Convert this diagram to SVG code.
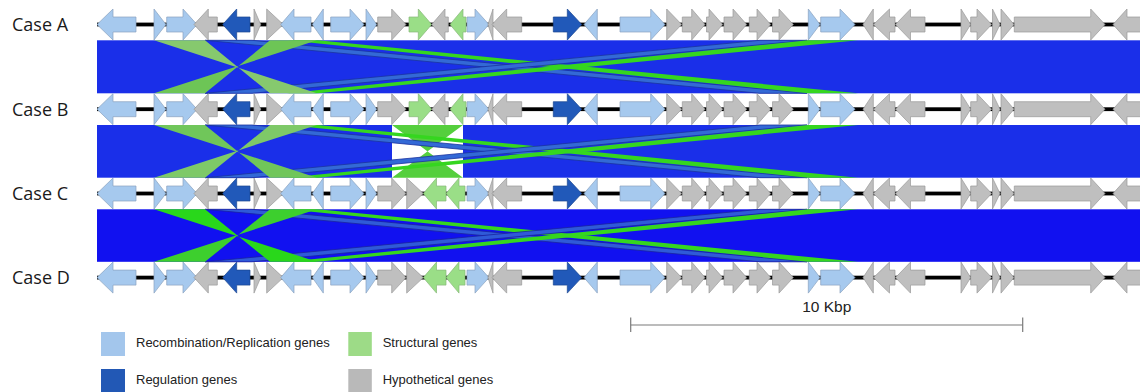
<svg xmlns="http://www.w3.org/2000/svg" xmlns:xlink="http://www.w3.org/1999/xlink" width="1140" height="392" viewBox="0 0 1140 392">
<style>
.lb{fill:#a6c9ee;stroke:#8aa2bf;stroke-width:0.7}
.gr{fill:#bfbfbf;stroke:#999;stroke-width:0.7}
.db{fill:#2159b9;stroke:#1a4690;stroke-width:0.7}
.gn{fill:#9ade87;stroke:#86b878;stroke-width:0.7}
.blue1{fill:#1a2fe9}
.blue2{fill:#1111f0}
.sLB{fill:#3369d6;stroke:#1a32a0;stroke-width:0.8}
.sLB2{fill:#2f5ad8;stroke:#1a22a0;stroke-width:0.8}
.sG{fill:#35d61f}
.lbl{font-family:"Open Sans","Liberation Sans",sans-serif;font-size:18px;fill:#1a1a1a}
.leg{font-family:"Liberation Sans",Arial,sans-serif;font-size:13px;fill:#222}
</style>
<defs>
<g id="common">
<rect x="97" y="-1.9" width="1043" height="3.8" fill="#000"/>
<polygon class="lb" points="97,0 113,-15.5 113,-7.5 136,-7.5 136,7.5 113,7.5 113,15.5"/>
<polygon class="lb" points="154,-15.5 166,0 154,15.5"/>
<polygon class="lb" points="166.7,-7.5 183,-7.5 183,-15.5 197,0 183,15.5 183,7.5 166.7,7.5"/>
<polygon class="gr" points="194,0 208.3,-15.5 208.3,-7.5 217.3,-7.5 217.3,7.5 208.3,7.5 208.3,15.5"/>
<polygon class="db" points="222.7,0 236.7,-15.5 236.7,-7.5 250,-7.5 250,7.5 236.7,7.5 236.7,15.5"/>
<polygon class="gr" points="254,-15.5 260.7,0 254,15.5"/>
<polygon class="gr" points="266.7,-15.5 283.3,0 266.7,15.5"/>
<polygon class="lb" points="280.7,0 294,-15.5 294,-7.5 311,-7.5 311,7.5 294,7.5 294,15.5"/>
<polygon class="lb" points="312.3,0 323.3,-15.5 323.3,15.5"/>
<polygon class="lb" points="330.7,-7.5 350,-7.5 350,-15.5 364,0 350,15.5 350,7.5 330.7,7.5"/>
<polygon class="lb" points="366,-15.5 376.7,0 366,15.5"/>
<polygon class="gr" points="377.7,-7.5 391.7,-7.5 391.7,-15.5 406,0 391.7,15.5 391.7,7.5 377.7,7.5"/>
<polygon class="lb" points="467,-7.5 475,-7.5 475,-15.5 489,0 475,15.5 475,7.5 467,7.5"/>
<polygon class="gr" points="488,0 493,-15.5 493,15.5"/>
<polygon class="gr" points="492,0 506.7,-15.5 506.7,-7.5 521.7,-7.5 521.7,7.5 506.7,7.5 506.7,15.5"/>
<polygon class="db" points="553.3,-7.5 567.3,-7.5 567.3,-15.5 581.7,0 567.3,15.5 567.3,7.5 553.3,7.5"/>
<polygon class="lb" points="584,0 597.3,-15.5 597.3,15.5"/>
<polygon class="lb" points="620,-7.5 650.7,-7.5 650.7,-15.5 665,0 650.7,15.5 650.7,7.5 620,7.5"/>
<polygon class="gr" points="666.7,-15.5 681.7,0 666.7,15.5"/>
<polygon class="gr" points="682.3,-7.5 691.7,-7.5 691.7,-15.5 705,0 691.7,15.5 691.7,7.5 682.3,7.5"/>
<polygon class="gr" points="706.5,-7.5 709,-7.5 709,-15.5 722.7,0 709,15.5 709,7.5 706.5,7.5"/>
<polygon class="gr" points="724,-7.5 733,-7.5 733,-15.5 746.7,0 733,15.5 733,7.5 724,7.5"/>
<polygon class="gr" points="749.3,-7.5 757,-7.5 757,-15.5 770.7,0 757,15.5 757,7.5 749.3,7.5"/>
<polygon class="gr" points="772.5,-7.5 779,-7.5 779,-15.5 793.3,0 779,15.5 779,7.5 772.5,7.5"/>
<polygon class="lb" points="808.3,-15.5 820,0 808.3,15.5"/>
<polygon class="lb" points="820.7,-7.5 840,-7.5 840,-15.5 855,0 840,15.5 840,7.5 820.7,7.5"/>
<polygon class="gr" points="863,0 873.3,-15.5 873.3,15.5"/>
<polygon class="gr" points="873.5,0 889.5,-15.5 889.5,-7.5 895,-7.5 895,7.5 889.5,7.5 889.5,15.5"/>
<polygon class="gr" points="895.5,0 910.5,-15.5 910.5,-7.5 925,-7.5 925,7.5 910.5,7.5 910.5,15.5"/>
<polygon class="gr" points="961,-15.5 970.7,0 961,15.5"/>
<polygon class="gr" points="970.7,-7.5 977,-7.5 977,-15.5 991.7,0 977,15.5 977,7.5 970.7,7.5"/>
<polygon class="gr" points="992.5,-15.5 1000,0 992.5,15.5"/>
<polygon class="gr" points="1001,-15.5 1014,0 1001,15.5"/>
<polygon class="gr" points="1014.3,-7.5 1090.7,-7.5 1090.7,-15.5 1105,0 1090.7,15.5 1090.7,7.5 1014.3,7.5"/>
<polygon class="gr" points="1113,0 1127,-15.5 1127,-7.5 1142,-7.5 1142,7.5 1127,7.5 1127,15.5"/>
</g>
<g id="varAB">
<polygon class="gn" points="409,-7.5 418.3,-7.5 418.3,-15.5 431.7,0 418.3,15.5 418.3,7.5 409,7.5"/>
<polygon class="gr" points="431.7,0 445,-15.5 445,-7.5 448.3,-7.5 448.3,7.5 445,7.5 445,15.5"/>
<polygon class="gn" points="450,0 463,-15.5 463,-7.5 466,-7.5 466,7.5 463,7.5 463,15.5"/>
</g>
<g id="varCD">
<polygon class="gr" points="406.7,-15.5 423.3,0 406.7,15.5"/>
<polygon class="gn" points="423.3,0 436.5,-15.5 436.5,-7.5 446,-7.5 446,7.5 436.5,7.5 436.5,15.5"/>
<polygon class="gn" points="446,0 459,-15.5 459,-7.5 465,-7.5 465,7.5 459,7.5 459,15.5"/>
</g>
</defs>

<g id="connectors">
<g id="band-AB">
<rect class="blue1" x="97" y="40.3" width="1043" height="53"/>
<polygon class="sLB" points="205,40.3 252,40.3 807,93.3 760,93.3"/>
<polygon class="sG" points="287,40.3 318,40.3 858,93.3 808,93.3"/>
<polygon class="sLB" points="205,93.3 252,93.3 807,40.3 760,40.3"/>
<polygon class="sG" points="287,93.3 318,93.3 858,40.3 808,40.3"/>
<polygon fill="#86c96e" points="154,40.3 205,40.3 270,93.3 317,93.3"/>
<polygon fill="#6dc556" points="154,93.3 205,93.3 270,40.3 317,40.3"/>
</g>
<g id="band-BC">
<rect class="blue1" x="97" y="125" width="295" height="52.7"/>
<rect class="blue1" x="463" y="125" width="677" height="52.7"/>
<polygon fill="#55cf3d" points="392,125 463,125 392,177.7 463,177.7"/>
<polygon class="sLB" points="205,125 252,125 807,177.7 760,177.7"/>
<polygon class="sG" points="287,125 318,125 858,177.7 808,177.7"/>
<polygon class="sLB" points="205,177.7 252,177.7 807,125 760,125"/>
<polygon class="sG" points="287,177.7 318,177.7 858,125 808,125"/>
<polygon fill="#70c65a" points="154,125 205,125 270,177.7 317,177.7"/>
<polygon fill="#7ec968" points="154,177.7 205,177.7 270,125 317,125"/>
</g>
<g id="band-CD">
<rect class="blue2" x="97" y="209.3" width="1043" height="52.5"/>
<polygon class="sLB2" points="205,209.3 252,209.3 807,261.8 760,261.8"/>
<polygon class="sG" points="287,209.3 318,209.3 858,261.8 808,261.8"/>
<polygon class="sLB2" points="205,261.8 252,261.8 807,209.3 760,209.3"/>
<polygon class="sG" points="287,261.8 318,261.8 858,209.3 808,209.3"/>
<polygon fill="#29d71b" points="154,209.3 205,209.3 270,261.8 317,261.8"/>
<polygon fill="#3dcf2e" points="154,261.8 205,261.8 270,209.3 317,209.3"/>
</g>
</g>

<g id="caseA" transform="translate(0,24.5)"><use href="#common"/><use href="#varAB"/></g>
<g id="caseB" transform="translate(0,109.2)"><use href="#common"/><use href="#varAB"/></g>
<g id="caseC" transform="translate(0,193.5)"><use href="#common"/><use href="#varCD"/></g>
<g id="caseD" transform="translate(0,277.6)"><use href="#common"/><use href="#varCD"/></g>

<g id="labels">
<text class="lbl" x="12" y="31">Case A</text>
<text class="lbl" x="12" y="115.7">Case B</text>
<text class="lbl" x="12" y="200">Case C</text>
<text class="lbl" x="12" y="284.1">Case D</text>
</g>

<g id="scale">
<line x1="630.7" y1="325" x2="1022.7" y2="325" stroke="#7a7a7a" stroke-width="1.2"/>
<line x1="630.7" y1="317.5" x2="630.7" y2="332" stroke="#7a7a7a" stroke-width="1.2"/>
<line x1="1022.7" y1="317.5" x2="1022.7" y2="332" stroke="#7a7a7a" stroke-width="1.2"/>
<text x="826.7" y="311.6" text-anchor="middle" font-family="Liberation Sans, Arial, sans-serif" font-size="15.5" fill="#222">10 Kbp</text>
</g>

<g id="legend">
<rect x="101" y="332" width="24" height="24" fill="#a3c6ec"/>
<text class="leg" x="136" y="347.3">Recombination/Replication genes</text>
<rect x="348.3" y="332" width="23.5" height="24" fill="#9ddb87"/>
<text class="leg" x="382.7" y="347.3">Structural genes</text>
<rect x="101" y="369" width="24" height="24" fill="#2258b5"/>
<text class="leg" x="136" y="384.3">Regulation genes</text>
<rect x="348.3" y="369" width="23.5" height="24" fill="#b9b9b9"/>
<text class="leg" x="382.7" y="384.3">Hypothetical genes</text>
</g>
</svg>
